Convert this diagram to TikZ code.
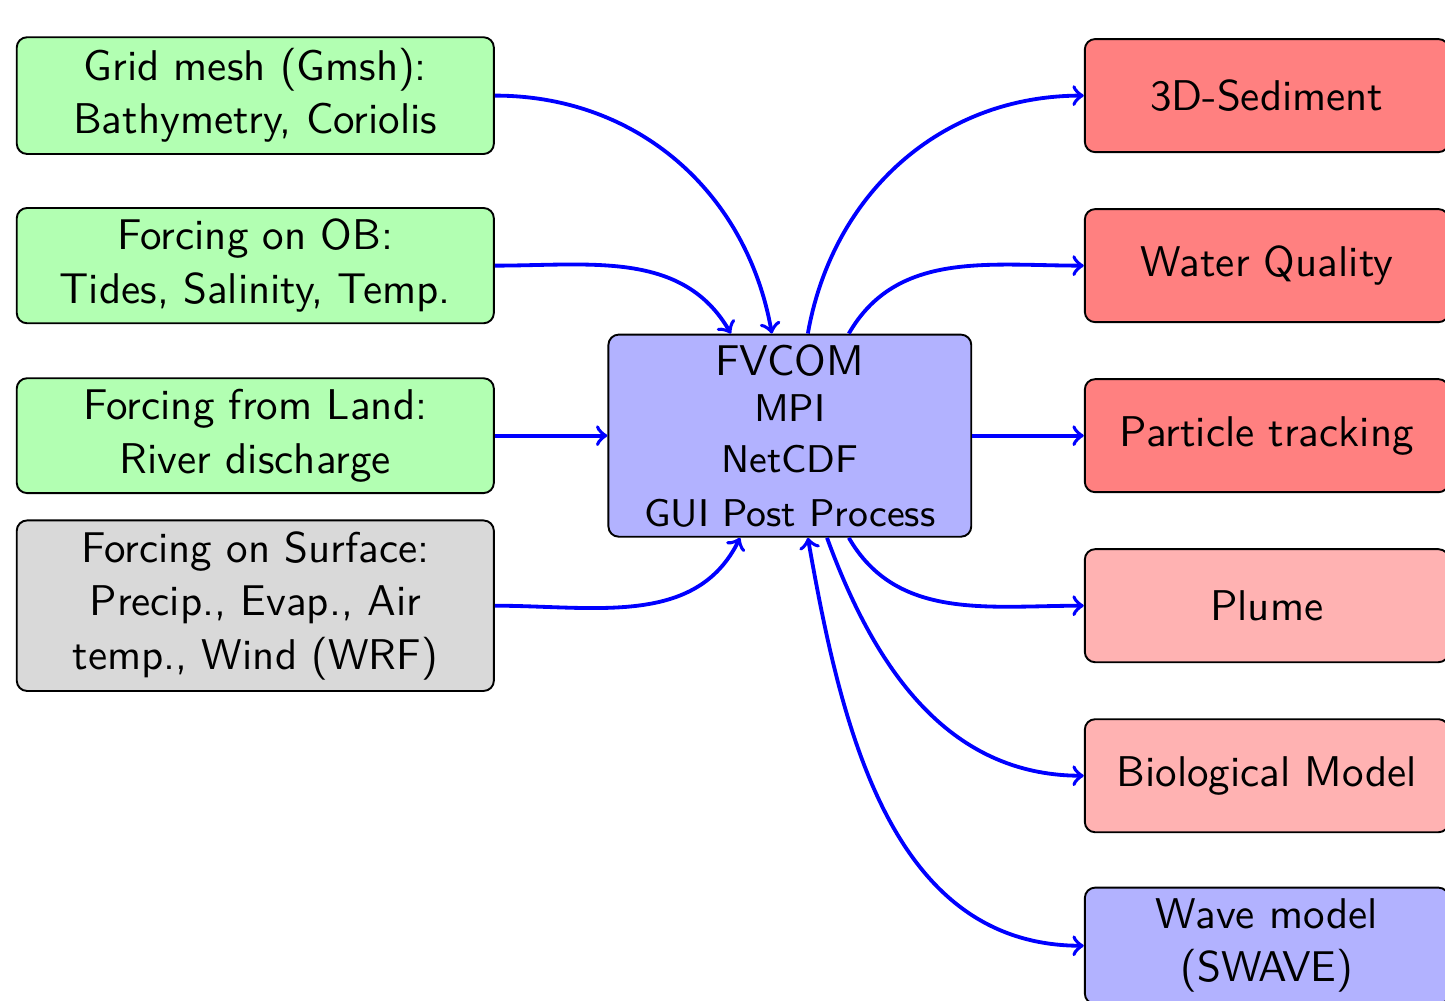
\documentclass[tikz,border=0pt]{standalone}
\usepackage{amsmath, amssymb, tikz}

\begin{document}
\begin{tikzpicture}[
  box/.style={draw, rounded corners=2.7pt, line width=0.5pt, align=center,
    inner sep=2.6pt, scale=1.126, transform shape,
    font=\sffamily\fontsize{10}{12.4}\selectfont},
  inbox/.style={box, fill=green!30, minimum width=3.9cm},
  outbox/.style={box, minimum width=2.975cm, minimum height=0.924cm},
  flow/.style={->, blue, line width=1pt}]
  \useasboundingbox (-7.27,-5.2) rectangle (6.03,4.01);

  \node[box, fill=blue!30, minimum width=2.966cm, minimum height=1.652cm,
    inner ysep=2.2pt] (fvcom) at (0,0)
    {FVCOM\\[-1.55pt] {\small MPI}\\[-0.65pt] {\small NetCDF}\\[0.1pt] {\small GUI Post Process}};

  \node[inbox] (grid) at (-4.92,3.13) {Grid mesh (Gmsh):\\ Bathymetry, Coriolis};
  \node[inbox] (ob) at (-4.92,1.565) {Forcing on OB:\\ Tides, Salinity, Temp.};
  \node[inbox] (land) at (-4.92,0) {Forcing from Land:\\ River discharge};
  \node[inbox, fill=black!15] (surf) at (-4.92,-1.565)
    {Forcing on Surface:\\ Precip., Evap., Air\\ temp., Wind (WRF)};

  \node[outbox, fill=red!50] (sed) at (4.39,3.13) {3D-Sediment};
  \node[outbox, fill=red!50] (wq) at (4.39,1.565) {Water Quality};
  \node[outbox, fill=red!50] (part) at (4.39,0) {Particle tracking};
  \node[outbox, fill=red!30] (plume) at (4.39,-1.565) {Plume};
  \node[outbox, fill=red!30] (bio) at (4.39,-3.13) {Biological Model};
  \node[outbox, fill=blue!30] (wave) at (4.39,-4.695) {Wave model\\ (SWAVE)};

  \draw[flow] (grid.east) to[out=0,in=100] (fvcom.100);
  \draw[flow] (ob.east) to[out=0,in=120] (fvcom.120);
  \draw[flow] (land.east) -- (fvcom.west);
  \draw[flow] (surf.east) to[out=0,in=244] (fvcom.244);

  \draw[flow] (fvcom.80) to[out=80,in=180] (sed.west);
  \draw[flow] (fvcom.60) to[out=60,in=180] (wq.west);
  \draw[flow] (fvcom.east) -- (part.west);
  \draw[flow] (fvcom.300) to[out=300,in=180] (plume.west);
  \draw[flow] (fvcom.290) to[out=290,in=180] (bio.west);
  \draw[flow, <->] (fvcom.280) to[out=280,in=180] (wave.west);
\end{tikzpicture}
\end{document}
